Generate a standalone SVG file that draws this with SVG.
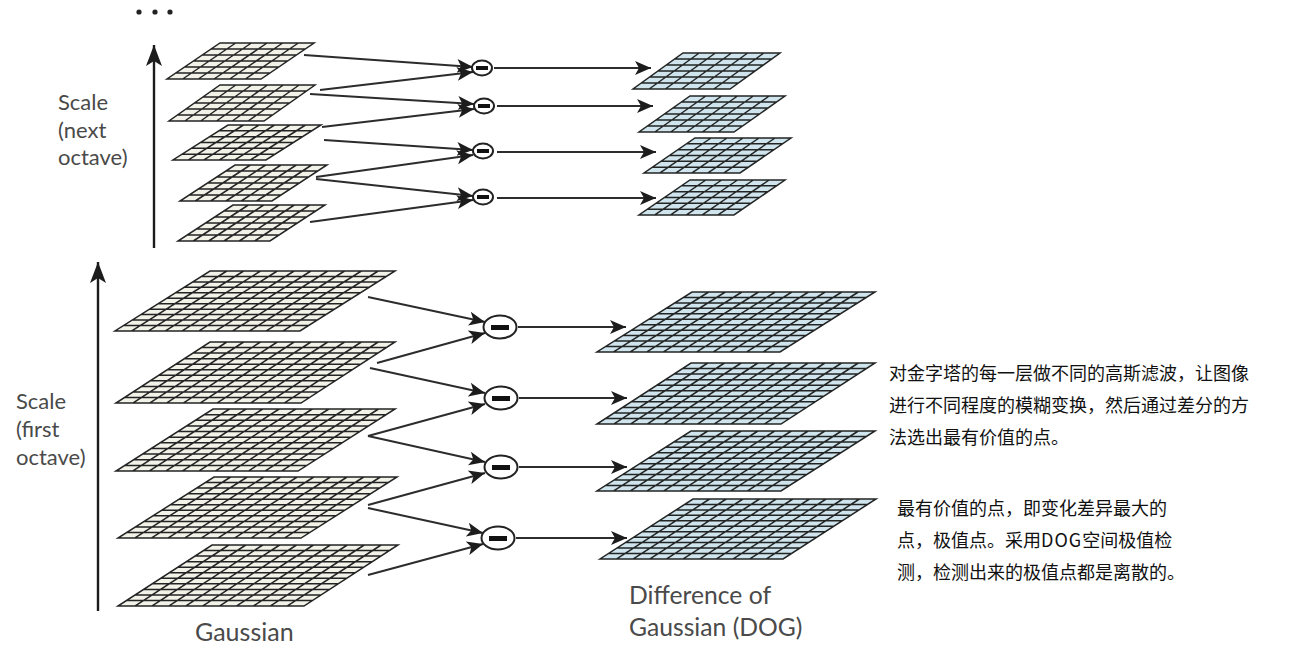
<svg xmlns="http://www.w3.org/2000/svg" width="1311" height="651" viewBox="0 0 1311 651">
<style>
.grid{stroke:#232424;stroke-width:1.5;stroke-linejoin:miter;vector-effect:non-scaling-stroke}
.g{fill:#f3f2e9}.d{fill:#cfe4ec}
.c line{stroke:#2c2c2c;stroke-width:2;marker-end:url(#a)}
.c line.axis{stroke:#1c1c1c;stroke-width:2.4;marker-end:url(#b)}
.op ellipse{fill:#fff;stroke:#222;stroke-width:2}
.op rect{fill:#111}
.lab{font-family:"Lato","Open Sans",sans-serif;font-size:22px;fill:#4a4a4a}
.zh{font-family:"Noto Sans CJK SC",sans-serif;font-size:18px;fill:#111}
</style>
<defs>
<marker id="a" markerUnits="userSpaceOnUse" markerWidth="18" markerHeight="16" refX="16" refY="8" orient="auto"><path d="M0 1L16 8L0 15L4 8Z" fill="#1c1c1c"/></marker>
<marker id="b" markerUnits="userSpaceOnUse" markerWidth="22" markerHeight="18" refX="21" refY="9" orient="auto"><path d="M0 1L21 9L0 17L5 9Z" fill="#1c1c1c"/></marker>
<path id="L" class="grid" d="M0 0H11V11H0ZM1 0V11M2 0V11M3 0V11M4 0V11M5 0V11M6 0V11M7 0V11M8 0V11M9 0V11M10 0V11M0 1H11M0 2H11M0 3H11M0 4H11M0 5H11M0 6H11M0 7H11M0 8H11M0 9H11M0 10H11"/>
<path id="S" class="grid" d="M0 0H6V6H0ZM1 0V6M2 0V6M3 0V6M4 0V6M5 0V6M0 1H6M0 2H6M0 3H6M0 4H6M0 5H6"/>
</defs>
<rect width="1311" height="651" fill="#fff"/>

<g id="dots" fill="#222"><circle cx="139" cy="12" r="2.6"/><circle cx="155" cy="12" r="2.6"/><circle cx="170" cy="12" r="2.6"/></g>

<g id="gauss-next-1"><use href="#S" class="g" transform="matrix(15.67 0 -8.83 6 220 43)"/></g>
<g id="gauss-next-2"><use href="#S" class="g" transform="matrix(15.83 0 -8.5 6 220 85)"/></g>
<g id="gauss-next-3"><use href="#S" class="g" transform="matrix(15.5 0 -9.17 5.83 228 125)"/></g>
<g id="gauss-next-4"><use href="#S" class="g" transform="matrix(15.33 0 -9.17 6 235 165)"/></g>
<g id="gauss-next-5"><use href="#S" class="g" transform="matrix(15.33 0 -9.17 6 233 205)"/></g>
<g id="dog-next-1"><use href="#S" class="d" transform="matrix(16.17 0 -8.33 6 683 53)"/></g>
<g id="dog-next-2"><use href="#S" class="d" transform="matrix(15.83 0 -8.5 6 690 96)"/></g>
<g id="dog-next-3"><use href="#S" class="d" transform="matrix(16 0 -8.5 5.83 695 138)"/></g>
<g id="dog-next-4"><use href="#S" class="d" transform="matrix(15.83 0 -8.5 5.83 690 180)"/></g>

<g id="gauss-first-1"><use href="#L" class="g" transform="matrix(16.82 0 -8.64 5.45 210 271)"/></g>
<g id="gauss-first-2"><use href="#L" class="g" transform="matrix(16.82 0 -8.55 5.55 210 342)"/></g>
<g id="gauss-first-3"><use href="#L" class="g" transform="matrix(16.55 0 -8.82 5.64 213 409)"/></g>
<g id="gauss-first-4"><use href="#L" class="g" transform="matrix(16.64 0 -8.73 5.55 214 477)"/></g>
<g id="gauss-first-5"><use href="#L" class="g" transform="matrix(16.91 0 -8.55 5.55 212 545)"/></g>
<g id="dog-first-1"><use href="#L" class="d" transform="matrix(16.64 0 -8.64 5.45 692 292)"/></g>
<g id="dog-first-2"><use href="#L" class="d" transform="matrix(16.73 0 -8.55 5.55 691 363)"/></g>
<g id="dog-first-3"><use href="#L" class="d" transform="matrix(16.73 0 -8.55 5.45 691 431)"/></g>
<g id="dog-first-4"><use href="#L" class="d" transform="matrix(16.64 0 -8.45 5.45 693 499)"/></g>

<g id="connectors" class="c">
<line x1="304" y1="55" x2="473" y2="67"/><line x1="320" y1="90" x2="473" y2="72"/>
<line x1="310" y1="94" x2="474" y2="104"/><line x1="322" y1="127" x2="474" y2="109"/>
<line x1="324" y1="140" x2="473" y2="150"/><line x1="316" y1="177" x2="473" y2="155"/>
<line x1="316" y1="179" x2="473" y2="196"/><line x1="310" y1="222" x2="473" y2="200"/>
<line x1="494" y1="68" x2="651" y2="68"/><line x1="497" y1="106" x2="653" y2="106"/>
<line x1="497" y1="152" x2="656" y2="152"/><line x1="497" y1="198" x2="656" y2="198"/>
<line x1="368" y1="297" x2="485" y2="322"/><line x1="377" y1="363" x2="485" y2="333"/>
<line x1="370" y1="368" x2="485" y2="393"/><line x1="368" y1="436" x2="485" y2="404"/>
<line x1="368" y1="436" x2="485" y2="462"/><line x1="368" y1="505" x2="485" y2="473"/>
<line x1="368" y1="508" x2="483" y2="533"/><line x1="368" y1="575" x2="483" y2="544"/>
<line x1="518" y1="327" x2="626" y2="327"/><line x1="519" y1="398" x2="627" y2="398"/>
<line x1="519" y1="467" x2="627" y2="467"/><line x1="516" y1="538" x2="627" y2="538"/>
<line class="axis" x1="154" y1="248" x2="154" y2="45"/>
<line class="axis" x1="98" y1="611" x2="98" y2="262"/>
</g>

<g id="minus-next-1" class="op"><ellipse cx="482" cy="68" rx="10" ry="7.5"/><rect x="476" y="66" width="12" height="4"/></g>
<g id="minus-next-2" class="op"><ellipse cx="484" cy="106" rx="10" ry="7.5"/><rect x="478" y="104" width="12" height="4"/></g>
<g id="minus-next-3" class="op"><ellipse cx="483" cy="151" rx="10" ry="7.5"/><rect x="477" y="149" width="12" height="4"/></g>
<g id="minus-next-4" class="op"><ellipse cx="483" cy="197" rx="10" ry="7.5"/><rect x="477" y="195" width="12" height="4"/></g>
<g id="minus-first-1" class="op"><ellipse cx="500" cy="327" rx="16.5" ry="11.5"/><rect x="491" y="325" width="18" height="5"/></g>
<g id="minus-first-2" class="op"><ellipse cx="501" cy="398" rx="16.5" ry="11.5"/><rect x="492" y="396" width="18" height="5"/></g>
<g id="minus-first-3" class="op"><ellipse cx="501" cy="467" rx="16.5" ry="11.5"/><rect x="492" y="465" width="18" height="5"/></g>
<g id="minus-first-4" class="op"><ellipse cx="498" cy="538" rx="16.5" ry="11.5"/><rect x="489" y="536" width="18" height="5"/></g>

<g id="label-next" class="lab"><text x="58" y="110">Scale</text><text x="58" y="138">(next</text><text x="58" y="165">octave)</text></g>
<g id="label-first" class="lab"><text x="16" y="409">Scale</text><text x="16" y="437">(first</text><text x="16" y="465">octave)</text></g>
<g id="label-gaussian" class="lab"><text x="195" y="641" style="font-size:25px">Gaussian</text></g>
<g id="label-dog" class="lab" style="font-size:24.7px"><text x="629" y="604">Difference of</text><text x="629" y="636">Gaussian (DOG)</text></g>

<g id="note-1" class="zh"><text x="889" y="380">对金字塔的每一层做不同的高斯滤波，让图像</text><text x="889" y="412">进行不同程度的模糊变换，然后通过差分的方</text><text x="889" y="444">法选出最有价值的点。</text></g>
<g id="note-2" class="zh"><text x="897" y="515">最有价值的点，即变化差异最大的</text><text x="897" y="547">点，极值点。采用<tspan letter-spacing="1">DOG</tspan>空间极值检</text><text x="897" y="579">测，检测出来的极值点都是离散的。</text></g>
</svg>
